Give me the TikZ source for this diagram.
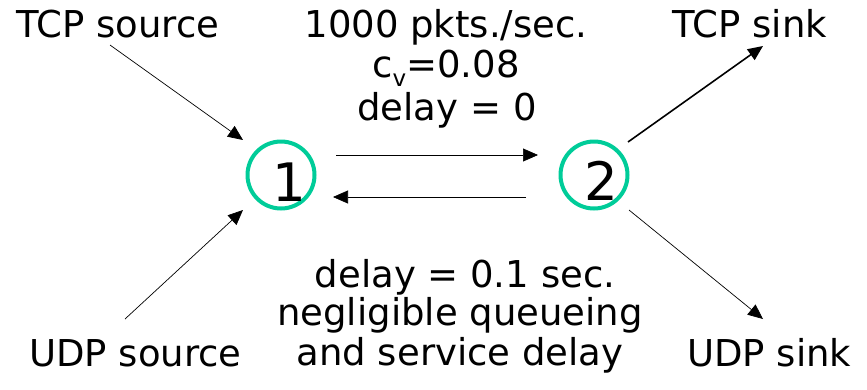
\documentclass[tikz,border=0pt]{standalone}
\usepackage{fontspec}
\setmainfont{DejaVu Sans}
\usetikzlibrary{arrows.meta}
\definecolor{ringteal}{RGB}{0,204,153}
\tikzset{
  lbl/.style={font=\fontsize{37}{44}\selectfont, inner sep=0pt, anchor=base},
  lblw/.style={lbl, anchor=base west},
  ring/.style={circle, draw=ringteal, line width=4pt, minimum size=67pt, inner sep=0pt},
  digit/.style={font=\fontsize{53}{60}\selectfont, inner sep=0pt},
  thinarrow/.style={line width=0.7pt, -{Triangle[length=15pt,width=13pt]}},
  thickarrow/.style={line width=1.6pt, -{Triangle[length=15pt,width=13pt]}},
}
\begin{document}
\begin{tikzpicture}[x=1pt,y=-1pt]
\useasboundingbox (0,0) rectangle (867,389);
% routers
\node[ring] (n1) at (281,175) {};
\node[ring] (n2) at (594,175) {};
\node[digit] (d1) at (289,182) {1};
\node[digit] (d2) at (601,181) {2};
% end labels
\node[lblw] (tcpsrc) at (16,37) {TCP source};
\node[lblw] (udpsrc) at (29,366) {UDP source};
\node[lblw] (tcpsnk) at (672,37) {TCP sink};
\node[lblw] (udpsnk) at (687,366) {UDP sink};
% link labels
\node[lbl] (t1) at (446,37) {1000 pkts./sec.};
\node[lbl] (t2) at (446,77) {c\raisebox{-0.26em}{\fontsize{23}{23}\selectfont v}=0.08};
\node[lbl] (t3) at (447,120) {delay = 0};
\node[lbl] (b1) at (465,287) {delay = 0.1 sec.};
\node[lbl] (b2) at (460,325) {negligible queueing};
\node[lbl] (b3) at (460,365) {and service delay};
% arrow end points
\coordinate (a1s) at (110,45);  \coordinate (a1e) at (243,140);
\coordinate (a2s) at (125,319); \coordinate (a2e) at (243,210);
\coordinate (a3s) at (628,142); \coordinate (a3e) at (763,46);
\coordinate (a4s) at (629,210); \coordinate (a4e) at (763,319);
\coordinate (f1) at (336,155);  \coordinate (f2) at (538,155);
\coordinate (r1) at (526,197);  \coordinate (r2) at (333,197);
\draw[thinarrow] (a1s) -- (a1e);
\draw[thinarrow] (a2s) -- (a2e);
\draw[thickarrow] (a3s) -- (a3e);
\draw[thinarrow] (a4s) -- (a4e);
\draw[thinarrow] (f1) -- (f2);
\draw[thinarrow] (r1) -- (r2);
\end{tikzpicture}
\end{document}
